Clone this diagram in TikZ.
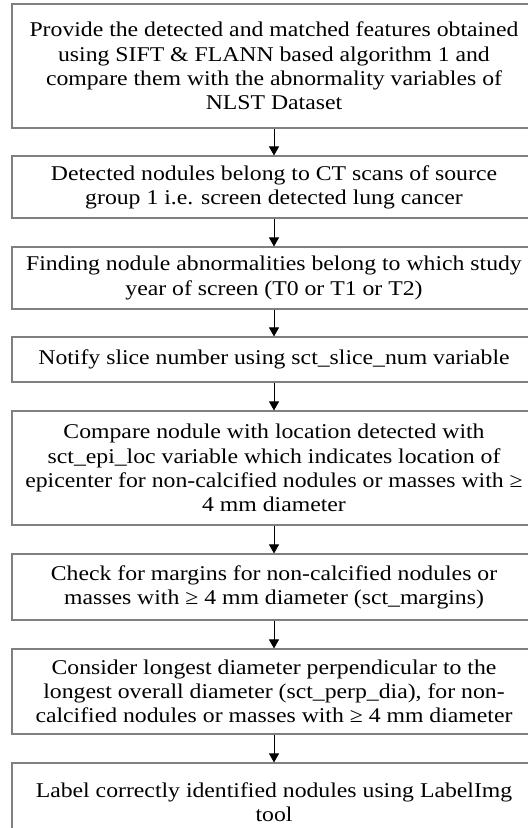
\documentclass[tikz,border=0pt]{standalone}
\usepackage{fontspec}
\setmainfont[FakeStretch=1.13]{Liberation Serif}
\usetikzlibrary{arrows.meta}
\tikzset{
  stepbox/.style={draw=black!50, line width=1.1bp, fill=white, minimum width=524bp, inner sep=0pt,
    align=center, font=\fontsize{21bp}{24.2bp}\selectfont, text=black},
  flowarrow/.style={draw=black, line width=0.9bp, -{Triangle[length=9bp,width=10bp]}}
}
\begin{document}
\begin{tikzpicture}[x=1bp,y=-1bp]
\useasboundingbox (0,0) rectangle (528,828);
\clip (0,0) rectangle (528,828);
\fill[white] (0,0) rectangle (528,828);
\node[stepbox, minimum height=124bp] (b1) at (274,66) {Provide the detected and matched features obtained\\using SIFT \& FLANN based algorithm 1 and\\compare them with the abnormality variables of\\NLST Dataset};
\node[stepbox, minimum height=62bp] (b2) at (274,187) {Detected nodules belong to CT scans of source\\group 1 i.e. screen detected lung cancer};
\node[stepbox, minimum height=62bp] (b3) at (274,278) {Finding nodule abnormalities belong to which study\\year of screen (T0 or T1 or T2)};
\node[stepbox, minimum height=45bp] (b4) at (274,359.5) {Notify slice number using sct\_slice\_num variable};
\node[stepbox, minimum height=114bp] (b5) at (274,468) {Compare nodule with location detected with\\sct\_epi\_loc variable which indicates location of\\epicenter for non-calcified nodules or masses with ≥\\4 mm diameter};
\node[stepbox, minimum height=66bp] (b6) at (274,587) {Check for margins for non-calcified nodules or\\masses with ≥ 4 mm diameter (sct\_margins)};
\node[stepbox, minimum height=85bp] (b7) at (274,691.5) {Consider longest diameter perpendicular to the\\longest overall diameter (sct\_perp\_dia), for non-\\calcified nodules or masses with ≥ 4 mm diameter};
\node[stepbox, minimum height=78bp] (b8) at (274,802) {Label correctly identified nodules using LabelImg\\tool};
\draw[flowarrow] (b1.south) -- (b2.north);
\draw[flowarrow] (b2.south) -- (b3.north);
\draw[flowarrow] (b3.south) -- (b4.north);
\draw[flowarrow] (b4.south) -- (b5.north);
\draw[flowarrow] (b5.south) -- (b6.north);
\draw[flowarrow] (b6.south) -- (b7.north);
\draw[flowarrow] (b7.south) -- (b8.north);
\end{tikzpicture}
\end{document}
